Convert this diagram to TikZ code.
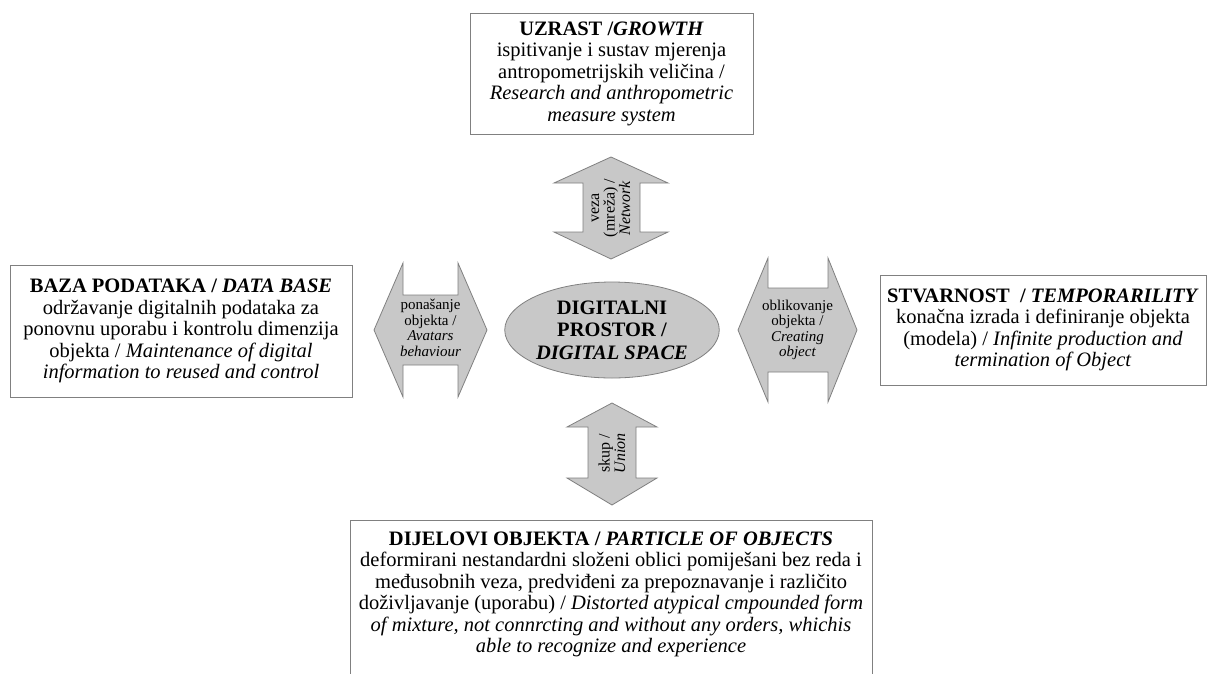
\documentclass[tikz,border=0pt]{standalone}
\usepackage{fontspec}
\setmainfont{Liberation Serif}
\usetikzlibrary{shapes.geometric}
\definecolor{arrfill}{RGB}{200,200,200}
\definecolor{edgegray}{RGB}{128,128,128}
\begin{document}
\begin{tikzpicture}[x=1pt,y=-1pt,
  box/.style={draw=edgegray, line width=1pt, fill=white},
  txt/.style={align=center, inner sep=0pt, font=\fontsize{20.5}{21.5}\selectfont},
  arr/.style={draw=edgegray, line width=0.8pt, fill=arrfill},
  atxt/.style={align=center, inner sep=0pt, font=\fontsize{15}{15.5}\selectfont},
  vtxt/.style={align=center, inner sep=0pt, rotate=90, font=\fontsize{16}{15.5}\selectfont}]
\useasboundingbox (0,0) rectangle (1208,673);
\fill[white] (0,0) rectangle (1208,673);

% boxes
\node[box, txt, minimum width=283pt, minimum height=121pt] (growth) at (611.5,73.5)
  {\textbf{UZRAST /\textit{GROWTH}}\\ ispitivanje i sustav mjerenja\\ antropometrijskih veličina /\\ \textit{Research and anthropometric}\\ \textit{measure system}};
\node[box, txt, minimum width=342pt, minimum height=132pt] (base) at (181,331)
  {\textbf{BAZA PODATAKA / \textit{DATA BASE}}\\ održavanje digitalnih podataka za\\ ponovnu uporabu i kontrolu dimenzija\\ objekta / \textit{Maintenance of digital}\\ \textit{information to reused and control}};
\node[box, txt, minimum width=326pt, minimum height=110pt] (real) at (1043,330)
  {\textbf{STVARNOST \ / \textit{TEMPORARILITY}}\\ konačna izrada i definiranje objekta\\ (modela) / \textit{Infinite production and}\\ \textit{termination of Object}};
\draw[edgegray, line width=1pt] (350,690) -- (350,520) -- (872,520) -- (872,690);
\node[txt] (parts) at (611,594.5)
  {\textbf{DIJELOVI OBJEKTA / \textit{PARTICLE OF OBJECTS}}\\ deformirani nestandardni složeni oblici pomiješani bez reda i\\ međusobnih veza, predviđeni za prepoznavanje i različito\\ doživljavanje (uporabu) / \textit{Distorted atypical cmpounded form}\\ \textit{of mixture, not connrcting and without any orders, whichis}\\ \textit{able to recognize and experience}};

% centre ellipse
\node[ellipse, draw=edgegray, line width=0.8pt, fill=arrfill, minimum width=208pt, minimum height=96pt,
  align=center, inner sep=0pt, font=\fontsize{20.5}{22.5}\selectfont\bfseries] (space) at (612,330)
  {DIGITALNI\\PROSTOR /\\\textit{DIGITAL SPACE}};

% double arrows
\draw[arr] (611,157) -- (668,183) -- (640,183) -- (640,232) -- (668,232) -- (611,259)
  -- (554,232) -- (583,232) -- (583,183) -- (554,183) -- cycle;
\node[vtxt] (net) at (611,208) {veza\\(mreža) /\\\textit{Network}};

\draw[arr] (612,403) -- (657,427) -- (636,427) -- (636,478) -- (657,478) -- (612,505)
  -- (567,478) -- (588,478) -- (588,427) -- (567,427) -- cycle;
\node[vtxt] (union) at (612,453) {skup /\\\textit{Union}};

\draw[arr] (374,330) -- (403,263) -- (403,295) -- (458,295) -- (458,263) -- (487,330)
  -- (458,397) -- (458,365) -- (403,365) -- (403,397) -- cycle;
\node[atxt] (behav) at (430.5,328) {ponašanje\\objekta /\\\textit{Avatars}\\\textit{behaviour}};

\draw[arr] (738,330) -- (768,258) -- (768,288) -- (828,288) -- (828,258) -- (857,330)
  -- (828,402) -- (828,372) -- (768,372) -- (768,402) -- cycle;
\node[atxt] (create) at (797.5,330) {oblikovanje\\objekta /\\\textit{Creating}\\\textit{object}};
\end{tikzpicture}
\end{document}
